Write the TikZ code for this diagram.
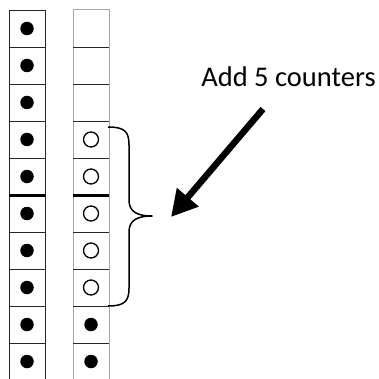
\documentclass[tikz,border=0pt]{standalone}
\usepackage{fontspec}
\setmainfont{Carlito}
\usetikzlibrary{arrows.meta}
\begin{document}
\begin{tikzpicture}[x=1pt,y=-1pt,
  cellbox/.style={minimum width=36pt,minimum height=37pt,inner sep=0pt,outer sep=0pt},
  dot/.style={circle,fill=black,minimum size=13.5pt,inner sep=0pt},
  ring/.style={circle,draw=black,line width=1.3pt,minimum size=15pt,inner sep=0pt},
  gridline/.style={line width=0.9pt,draw=black!85},
  grayline/.style={line width=1pt,draw=black!35},
  divider/.style={line width=3pt,draw=black},
  bigarrow/.style={line width=6.5pt,-{Triangle[length=26pt,width=27pt]}},
  bracestyle/.style={line width=1.5pt,line join=round}]
\useasboundingbox (0,0) rectangle (378,379);
% cells
\foreach \i in {0,...,9}{
  \node[cellbox] (L\i) at (27,{28.5+37*\i}) {};
  \node[cellbox] (R\i) at (91,{28.5+37*\i}) {};
}
% left column lines
\draw[gridline] (L9.south west) -- (L0.north west) -- (L0.north east) -- (L9.south east);
\foreach \i in {1,...,9}{ \draw[gridline] (L\i.north west) -- (L\i.north east); }
% right column lines
\draw[grayline] (R9.south west) -- (R0.north west) -- (R0.north east) -- (R9.south east);
\foreach \i in {1,...,9}{ \draw[gridline] (R\i.north west) -- (R\i.north east); }
% dividers
\draw[divider] (L5.north west) -- (L5.north east);
\draw[divider] (R5.north west) -- (R5.north east);
% counters
\foreach \i in {0,...,9}{ \node[dot] at (L\i) {}; }
\foreach \i in {3,...,7}{ \node[ring] at (R\i) {}; }
\foreach \i in {8,9}{ \node[dot] at (R\i) {}; }
% brace
\coordinate (btop) at (108,127);
\coordinate (btip) at (152,216);
\coordinate (bbot) at (108,306);
\draw[bracestyle] (btop) .. controls (125,127) and (129,132) .. (129,145)
  -- (129,200) .. controls (129,211) and (136,216) .. (btip)
  .. controls (136,216) and (129,221) .. (129,232)
  -- (129,288) .. controls (129,301) and (125,306) .. (bbot);
% label and arrow
\node[anchor=base,font=\fontsize{28.5}{32}\selectfont,inner sep=0pt] (lbl) at (288.5,87) {Add 5 counters};
\coordinate (atail) at (263,109);
\coordinate (ahead) at (171,217);
\draw[bigarrow] (atail) -- (ahead);
\end{tikzpicture}
\end{document}
